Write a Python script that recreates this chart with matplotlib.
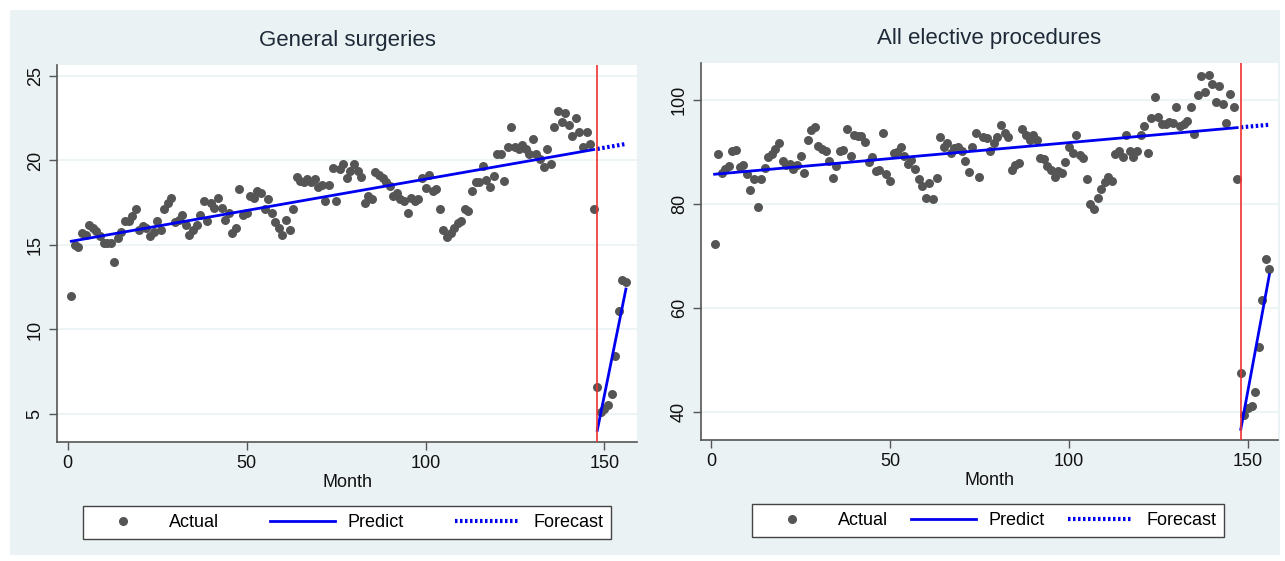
import numpy as np
import matplotlib
matplotlib.use("Agg")
import matplotlib.pyplot as plt
from matplotlib.lines import Line2D
from matplotlib.patches import Rectangle

plt.rcParams['font.family'] = ['Liberation Sans', 'DejaVu Sans']

# monthly counts, before and after the intervention (month 148)
intervention = 148

gs_pre = [12.0, 15.0, 14.86, 15.7, 15.6, 16.2, 16.0, 15.85, 15.55, 15.1,
          15.1, 15.1, 13.97, 15.43, 15.75, 16.4, 16.4, 16.7, 17.1, 15.9,
          16.15, 16.0, 15.53, 15.75, 16.4, 15.9, 17.1, 17.5, 17.8, 16.35,
          16.5, 16.8, 16.2, 15.6, 15.9, 16.2, 16.8, 17.6, 16.4, 17.5,
          17.2, 17.8, 17.2, 16.5, 16.9, 15.7, 16.0, 18.3, 16.8, 16.9,
          17.9, 17.8, 18.2, 18.05, 17.1, 17.7, 16.9, 16.35, 16.0, 15.6,
          16.5, 15.9, 17.1, 19.0, 18.8, 18.75, 18.9, 18.75, 18.9, 18.45,
          18.55, 17.6, 18.55, 19.55, 17.6, 19.5, 19.8, 18.95, 19.4, 19.8,
          19.4, 19.0, 17.5, 17.9, 17.7, 19.3, 19.15, 18.95, 18.7, 18.5,
          17.9, 18.1, 17.7, 17.6, 16.9, 17.8, 17.6, 17.7, 18.95, 18.4,
          19.15, 18.2, 18.3, 17.1, 15.9, 15.5, 15.7, 16.0, 16.3, 16.4,
          17.1, 17.0, 18.2, 18.7, 18.7, 19.7, 18.85, 18.45, 19.1, 20.4,
          20.4, 18.8, 20.8, 22.0, 20.8, 20.7, 20.9, 20.65, 20.4, 21.3,
          20.4, 20.1, 19.6, 20.65, 19.8, 22.0, 22.9, 22.3, 22.8, 22.1,
          21.45, 22.5, 21.7, 20.8, 21.7, 21.0, 17.1]
gs_post = [6.6, 5.1, 5.3, 5.5, 6.2, 8.4, 11.1, 12.9, 12.8]

ep_pre = [72.3, 89.6, 85.9, 86.8, 87.2, 90.2, 90.4, 87.1, 87.4, 85.7,
          82.6, 84.7, 79.4, 84.7, 86.9, 89.0, 89.6, 90.5, 91.8, 88.3,
          87.5, 87.6, 86.8, 87.5, 89.2, 85.9, 92.3, 94.2, 94.7, 91.1,
          90.5, 90.1, 88.3, 84.9, 87.2, 90.1, 90.3, 94.4, 89.2, 93.2,
          93.0, 93.0, 91.9, 88.1, 89.0, 86.3, 86.6, 93.7, 85.7, 84.4,
          89.7, 89.9, 91.0, 89.2, 87.6, 88.5, 86.7, 84.7, 83.4, 81.2,
          84.0, 80.9, 84.9, 92.8, 90.9, 91.8, 89.8, 90.7, 90.9, 90.1,
          88.2, 86.1, 90.9, 93.6, 85.1, 92.8, 92.6, 90.1, 91.8, 92.8,
          95.1, 93.7, 92.8, 86.5, 87.5, 87.8, 94.4, 93.2, 92.3, 93.3,
          92.3, 88.8, 88.7, 87.3, 86.6, 85.2, 86.4, 86.0, 88.0, 90.9,
          89.8, 93.2, 89.5, 88.8, 84.7, 80.0, 79.1, 81.1, 82.9, 84.3,
          85.2, 84.5, 89.6, 90.1, 89.0, 93.2, 90.1, 89.0, 90.1, 93.2,
          94.9, 89.8, 96.5, 100.6, 96.8, 95.4, 95.4, 95.8, 95.6, 98.7,
          94.9, 95.4, 95.9, 98.7, 93.5, 100.9, 104.6, 101.6, 104.8, 103.0,
          99.6, 102.6, 99.2, 95.6, 101.1, 98.7, 84.7]
ep_post = [47.4, 39.5, 40.8, 41.2, 43.9, 52.4, 61.6, 69.5, 67.5]

titles = ["General surgeries", "All elective procedures"]
yticks_l = [5, 10, 15, 20, 25]
yticks_r = [40, 60, 80, 100]
xticks = [0, 50, 100, 150]

bg = "#EAF2F3"
dot = "#555555"
blue = "#0000F0"

W, H = 1285, 561
fig = plt.figure(figsize=(W / 100, H / 100), dpi=100, facecolor="white")
fig.patches.append(Rectangle((10 / W, 6 / H), 1270 / W, 545 / H,
                             transform=fig.transFigure, facecolor=bg,
                             edgecolor="none", zorder=-10))


def its_panel(rect, pre, post, title, yticks, ylim, xlim, leg_x, colsp):
    ax = fig.add_axes(rect)
    ax.set_facecolor("white")
    m_pre = np.arange(1, len(pre) + 1)
    m_post = np.arange(intervention, intervention + len(post))
    # segmented regression: separate OLS fit before and after
    b_pre = np.polyfit(m_pre, pre, 1)
    b_post = np.polyfit(m_post, post, 1)
    ax.scatter(np.concatenate([m_pre, m_post]), np.concatenate([pre, post]),
               s=42, color=dot, zorder=3, linewidths=0)
    ax.plot(m_pre, np.polyval(b_pre, m_pre), color=blue, lw=2, zorder=4)
    ax.plot(m_post, np.polyval(b_post, m_post), color=blue, lw=2, zorder=4)
    ax.plot(m_post, np.polyval(b_pre, m_post), color=blue, lw=3,
            ls=(0, (0.6, 0.6)), zorder=4)
    ax.axvline(intervention, color="#F03030", lw=1.2, zorder=5)

    ax.set_xlim(*xlim)
    ax.set_ylim(*ylim)
    ax.set_xticks(xticks)
    ax.set_yticks(yticks)
    ax.grid(axis="y", color=bg, lw=1.2)
    ax.set_axisbelow(True)
    for s in ["top", "right"]:
        ax.spines[s].set_visible(False)
    for s in ["left", "bottom"]:
        ax.spines[s].set_color("#555555")
        ax.spines[s].set_linewidth(1.2)
    ax.tick_params(axis="both", direction="out", length=6, width=1,
                   color="#555555", labelsize=13, labelcolor="#111111")
    plt.setp(ax.get_yticklabels(), rotation=90, va="center")
    ax.set_xlabel("Month", fontsize=13, color="#111111", labelpad=1)
    ax.set_title(title, fontsize=16, color="#1E2A38", pad=14)

    handles = [Line2D([], [], marker="o", ls="none", color=dot, markersize=5.5),
               Line2D([], [], color=blue, lw=2),
               Line2D([], [], color=blue, lw=3, ls=(0, (0.6, 0.6)))]
    leg = ax.legend(handles, ["Actual", "Predict", "Forecast"], ncol=3,
                    loc="center", bbox_to_anchor=(leg_x, -0.214),
                    fontsize=13, handlelength=3.6, frameon=True,
                    fancybox=False, edgecolor="#444444", framealpha=1,
                    borderpad=0.45, handletextpad=0.7, columnspacing=colsp)
    leg.get_frame().set_linewidth(1)
    return ax


its_panel([57 / W, (H - 442) / H, 580 / W, 377 / H], gs_pre, gs_post,
          titles[0], yticks_l, (3.34, 25.65), (-3, 159.1),
          (347 - 57) / 580, 2.85)
its_panel([701 / W, (H - 440) / H, 577 / W, 377 / H], ep_pre, ep_post,
          titles[1], yticks_r, (34.6, 107.1), (-2.8, 158.4),
          (988 - 701) / 577, 1.3)

fig.savefig("out.png", dpi=100, facecolor="white")
